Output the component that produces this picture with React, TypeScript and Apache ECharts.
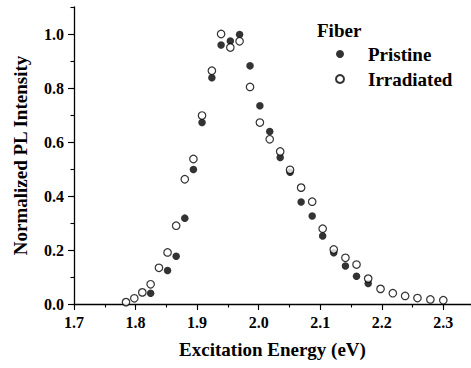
import React, { useEffect, useRef } from "react";
import * as echarts from "echarts";

const pristineX = [1.8245, 1.852, 1.866, 1.880, 1.894, 1.908, 1.924, 1.939, 1.954, 1.969, 1.986, 2.002, 2.018, 2.035, 2.051, 2.069, 2.087, 2.104, 2.122, 2.141, 2.159, 2.178];
const pristineY = [0.040, 0.124, 0.177, 0.318, 0.498, 0.672, 0.838, 0.959, 0.974, 0.998, 0.882, 0.734, 0.639, 0.543, 0.488, 0.378, 0.326, 0.252, 0.190, 0.141, 0.103, 0.076];

const irradiatedX = [1.7845, 1.798, 1.811, 1.8245, 1.838, 1.852, 1.866, 1.880, 1.894, 1.908, 1.924, 1.939, 1.954, 1.969, 1.986, 2.002, 2.018, 2.035, 2.051, 2.069, 2.087, 2.104, 2.122, 2.141, 2.159, 2.178, 2.198, 2.218, 2.238, 2.258, 2.279, 2.300];
const irradiatedY = [0.007, 0.021, 0.043, 0.073, 0.134, 0.191, 0.290, 0.462, 0.537, 0.698, 0.864, 1.000, 0.950, 0.973, 0.804, 0.672, 0.610, 0.565, 0.497, 0.431, 0.379, 0.279, 0.202, 0.171, 0.146, 0.094, 0.056, 0.040, 0.030, 0.022, 0.017, 0.014];

// axis ranges and tick steps
const X_MIN = 1.7, X_MAX = 2.345, X_LABEL_MAX = 2.3, X_STEP = 0.1, X_MINOR = 0.05;
const Y_MIN = 0, Y_MAX = 1.1, Y_LABEL_MAX = 1.0, Y_STEP = 0.2, Y_MINOR = 0.1;

const FONT = "'Liberation Serif', 'Times New Roman', serif";

export default function App() {
  const ref = useRef<HTMLDivElement>(null);
  useEffect(() => {
    if (!ref.current) return;
    const chart = echarts.init(ref.current, undefined, { renderer: "svg" });
    const W = 471, H = 368;
    const g0 = { left: 74, right: 0, top: 7, bottom: 64 };
    const pw = W - g0.left - g0.right;
    const ph = H - g0.top - g0.bottom;
    const xScale = pw / (X_MAX - X_MIN);
    const yScale = ph / (Y_MAX - Y_MIN);
    // second grid shares the same pixel mapping but ends at the last labelled tick
    const g1 = {
      left: g0.left,
      right: W - (g0.left + (X_LABEL_MAX - X_MIN) * xScale),
      top: g0.top + (Y_MAX - Y_LABEL_MAX) * yScale,
      bottom: g0.bottom,
    };
    const tickStyle = { color: "#000", width: 1.1 };
    const labelStyle = { fontFamily: FONT, fontWeight: "bold", fontSize: 16, color: "#000" };
    const nameStyle = { fontFamily: FONT, fontWeight: "bold", fontSize: 19, color: "#000" };
    chart.setOption({
      animation: false,
      backgroundColor: "#fff",
      grid: [
        { ...g0, containLabel: false },
        { ...g1, containLabel: false },
      ],
      textStyle: { fontFamily: FONT },
      xAxis: [
        {
          type: "value", gridIndex: 0, position: "bottom",
          min: X_MIN, max: X_MAX, interval: X_MINOR,
          splitLine: { show: false },
          name: "Excitation Energy (eV)",
          nameLocation: "middle",
          nameGap: 36,
          nameTextStyle: nameStyle,
          axisLine: { show: true, onZero: false, lineStyle: { color: "#000", width: 1.3 } },
          axisTick: { show: true, inside: false, length: 3.5, lineStyle: tickStyle },
          axisLabel: { show: false },
        },
        {
          type: "value", gridIndex: 1, position: "bottom",
          min: X_MIN, max: X_LABEL_MAX, interval: X_STEP,
          splitLine: { show: false },
          axisLine: { show: false, onZero: false },
          axisTick: { show: true, inside: false, length: 6, lineStyle: tickStyle },
          axisLabel: { margin: 10, ...labelStyle, formatter: (v: number) => v.toFixed(1) },
        },
      ],
      yAxis: [
        {
          type: "value", gridIndex: 0, position: "left",
          min: Y_MIN, max: Y_MAX, interval: Y_MINOR,
          splitLine: { show: false },
          name: "Normalized PL Intensity",
          nameLocation: "middle",
          nameGap: 44,
          nameTextStyle: nameStyle,
          axisLine: { show: true, onZero: false, lineStyle: { color: "#000", width: 1.3 } },
          axisTick: { show: true, inside: false, length: 3.5, lineStyle: tickStyle },
          axisLabel: { show: false },
        },
        {
          type: "value", gridIndex: 1, position: "left",
          min: Y_MIN, max: Y_LABEL_MAX, interval: Y_STEP,
          splitLine: { show: false },
          axisLine: { show: false, onZero: false },
          axisTick: { show: true, inside: false, length: 6, lineStyle: tickStyle },
          axisLabel: { margin: 10, ...labelStyle, formatter: (v: number) => v.toFixed(1) },
        },
      ],
      legend: {
        orient: "vertical",
        left: 335,
        top: 44,
        padding: 0,
        itemGap: 5,
        itemWidth: 8,
        itemHeight: 8,
        icon: "circle",
        textStyle: { fontFamily: FONT, fontWeight: "bold", fontSize: 19, color: "#000", lineHeight: 20, padding: [0, 0, 0, 19] },
        data: ["Pristine", "Irradiated"],
      },
      graphic: [
        {
          type: "text",
          left: 317,
          top: 21,
          style: { text: "Fiber", font: `bold 19px ${FONT}`, fill: "#000" },
        },
      ],
      series: [
        {
          name: "Pristine",
          type: "scatter",
          xAxisIndex: 0, yAxisIndex: 0,
          symbol: "circle",
          symbolSize: 7.5,
          itemStyle: { color: "#000" },
          data: pristineX.map((x, i) => [x, pristineY[i]]),
        },
        {
          name: "Irradiated",
          type: "scatter",
          xAxisIndex: 0, yAxisIndex: 0,
          symbol: "circle",
          symbolSize: 7.5,
          itemStyle: { color: "#fff", borderColor: "#000", borderWidth: 1.2 },
          data: irradiatedX.map((x, i) => [x, irradiatedY[i]]),
        },
      ],
    });
    return () => chart.dispose();
  }, []);
  return <div ref={ref} style={{ width: 471, height: 368, position: "absolute", left: 0, top: 0 }} />;
}
